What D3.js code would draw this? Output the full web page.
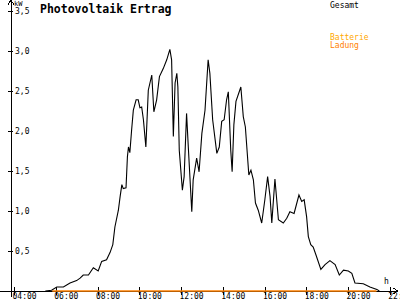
<!DOCTYPE html>
<html>
<head>
<meta charset="utf-8">
<script src="https://cdn.jsdelivr.net/npm/d3@7"></script>
<style>
body { margin:0; background:#fff; }
svg { display:block; }
text { font-family:"DejaVu Sans Mono", monospace; }
</style>
</head>
<body>
<script>
// Gesamt (kW)
var times = ["05:30","05:48","06:03","06:22","06:41","07:00","07:10","07:19","07:34","07:48",
  "08:02","08:12","08:26","08:36","08:44","08:50","09:00","09:05","09:10","09:14",
  "09:22","09:26","09:29","09:33","09:38","09:43","09:51","09:57","10:02","10:07",
  "10:12","10:19","10:26","10:36","10:42","10:50","10:58","11:09","11:19","11:28",
  "11:33","11:38","11:43","11:48","11:51","11:55","12:04","12:09","12:16","12:21",
  "12:31","12:35","12:45","12:52","13:00","13:09","13:18","13:23","13:31","13:43",
  "13:50","13:57","14:04","14:11","14:16","14:23","14:27","14:32","14:38","14:52",
  "14:59","15:05","15:15","15:21","15:28","15:34","15:42","15:52","16:01","16:09",
  "16:16","16:21","16:30","16:40","16:54","17:04","17:13","17:25","17:39","17:47",
  "17:54","18:01","18:06","18:13","18:20","18:28","18:42","18:54","19:08","19:23",
  "19:35","19:47","20:01","20:11","20:20","20:44","21:03","21:23","21:30"];
var gesamt = [0,0.01,0.05,0.05,0.10,0.13,0.16,0.20,0.20,0.29,
  0.25,0.37,0.39,0.48,0.58,0.80,1.01,1.18,1.33,1.28,
  1.29,1.68,1.80,1.73,2.01,2.26,2.39,2.39,2.29,2.30,
  2.14,1.80,2.51,2.70,2.24,2.39,2.68,2.78,2.89,3.02,
  2.89,1.93,2.60,2.72,2.55,1.76,1.26,1.43,2.22,1.80,
  0.99,1.39,1.66,1.49,1.97,2.26,2.89,2.72,2.14,1.72,
  1.80,2.12,2.14,2.39,2.49,1.76,1.49,2.08,2.37,2.55,
  2.18,2.05,1.45,1.51,1.39,1.10,1.01,0.85,1.14,1.43,
  1.18,0.85,1.40,0.89,0.85,0.91,0.99,0.97,1.20,1.12,
  1.14,0.93,0.68,0.58,0.55,0.45,0.27,0.33,0.38,0.33,
  0.20,0.26,0.25,0.22,0.10,0.09,0.05,0.02,0];

// Batterie Ladung (kW)
var ladungTimes = ["05:50","21:22"];
var ladung = [0,0];

var xTicks = [4,6,8,10,12,14,16,18,20,22];
var yTicks = [0.5,1,1.5,2,2.5,3,3.5];

function hours(s){ var p=s.split(":"); return +p[0] + p[1]/60; }
function pad(n){ return (n<10?"0":"")+n; }

var svg = d3.select("body").append("svg").attr("width",400).attr("height",300);

var x = d3.scaleLinear().domain([4,22]).range([14,389.75]);
var y = d3.scaleLinear().domain([0,3.5]).range([291,11]);

// axis lines with arrows
svg.append("path").attr("d","M11,297V0M8,5L11,0L14,5")
  .attr("stroke","#000").attr("fill","none").attr("shape-rendering","crispEdges");
svg.append("path").attr("d","M0,291H398M393,288L398,291L393,294")
  .attr("stroke","#000").attr("fill","none").attr("shape-rendering","crispEdges");

var yAxis = svg.append("g").attr("transform","translate(11,0)")
  .call(d3.axisLeft(y).tickValues(yTicks).tickSize(3)
    .tickFormat(function(d){ return d3.format(".1f")(d).replace(".",","); }));
yAxis.select(".domain").remove();
yAxis.selectAll(".tick line").attr("x1",-3).attr("x2",2).attr("shape-rendering","crispEdges");
yAxis.selectAll(".tick text").attr("x",4).attr("dy","0.33em")
  .attr("text-anchor","start").attr("font-size","8px").attr("font-family","DejaVu Sans Mono");

var xAxis = svg.append("g").attr("transform","translate(0,291)")
  .call(d3.axisBottom(x).tickValues(xTicks).tickSize(4)
    .tickFormat(function(d){ return pad(d)+":00"; }));
xAxis.select(".domain").remove();
xAxis.selectAll(".tick line").attr("y1",-4).attr("y2",4).attr("shape-rendering","crispEdges");
xAxis.selectAll(".tick text").attr("x",-2).attr("y",8).attr("dy",0)
  .attr("text-anchor","start").attr("font-size","8px").attr("font-family","DejaVu Sans Mono");

// units
svg.append("text").attr("x",14).attr("y",6).attr("font-size","7px").text("kW");
svg.append("text").attr("x",384).attr("y",284).attr("font-size","8px").text("h");

// title & legend
svg.append("text").attr("x",40).attr("y",13).attr("font-size","11.5px")
  .attr("font-weight","bold").text("Photovoltaik Ertrag");
svg.append("text").attr("x",330).attr("y",8).attr("font-size","8px").attr("fill","#000").text("Gesamt");
svg.append("text").attr("x",330).attr("y",40).attr("font-size","8px").attr("fill","#ffa800").text("Batterie");
svg.append("text").attr("x",330).attr("y",48).attr("font-size","8px").attr("fill","#ff8000").text("Ladung");

var line = d3.line()
  .x(function(d){ return x(hours(d.t)); })
  .y(function(d){ return y(d.v); });

svg.append("path")
  .datum(ladungTimes.map(function(t,i){ return {t:t, v:ladung[i]}; }))
  .attr("fill","none").attr("stroke","#ff8000").attr("stroke-width",1.5)
  .attr("d",line);

svg.append("path")
  .datum(times.map(function(t,i){ return {t:t, v:gesamt[i]}; }))
  .attr("fill","none").attr("stroke","#000").attr("stroke-width",1.1)
  .attr("d",line);
</script>
</body>
</html>
